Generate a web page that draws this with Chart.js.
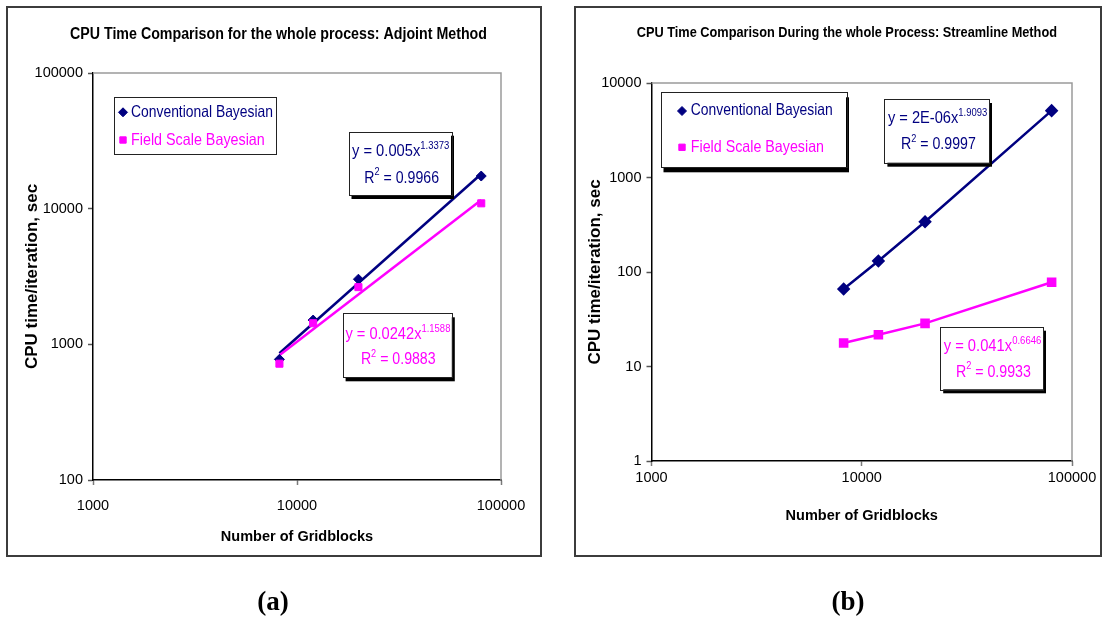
<!DOCTYPE html>
<html><head><meta charset="utf-8">
<script src="https://cdn.jsdelivr.net/npm/chart.js@4.4.1/dist/chart.umd.min.js"></script>
<style>
html,body{margin:0;padding:0;background:#fff;width:1107px;height:620px;overflow:hidden;position:relative}
.panel{position:absolute;box-sizing:border-box;border:2px solid #3c3c3c}
canvas{position:absolute;top:0}
.cap{position:absolute;font-family:'Liberation Serif','Times New Roman',serif;font-weight:bold;font-size:27px;top:586px;width:100px;text-align:center;color:#000}
</style></head><body>
<div class="panel" style="left:6px;top:6px;width:536px;height:551px"></div>
<div class="panel" style="left:574px;top:6px;width:528px;height:551px"></div>
<canvas id="cA" width="553" height="620" style="left:0"></canvas>
<canvas id="cB" width="554" height="620" style="left:553px"></canvas>
<div class="cap" style="left:223px">(a)</div>
<div class="cap" style="left:798px">(b)</div>
<script>
// ---------- data ----------
const gridblocks = [8200, 12000, 20000, 80000];
const adjointConventional = [775, 1510, 3020, 17400];
const adjointFieldScale = [720, 1430, 2640, 10950];
const trendGridblocks = [8200, 80000];
const adjointConventionalTrend = [860, 18000];
const adjointFieldScaleTrend = [830, 11600];
const streamlineConventional = [66, 131, 340, 5100];
const streamlineFieldScale = [17.7, 21.7, 28.6, 78];
const xTickValues = [1000, 10000, 100000];
const yTickValuesA = [100, 1000, 10000, 100000];
const yTickValuesB = [1, 10, 100, 1000, 10000];
const seriesNames = ['Conventional Bayesian', 'Field Scale Bayesian'];
const titleA = 'CPU Time Comparison for the whole process: Adjoint Method';
const titleB = 'CPU Time Comparison During the whole Process: Streamline Method';
const xTitle = 'Number of Gridblocks';
const yTitle = 'CPU time/iteration, sec';
const eqA = [['y = 0.005x', '1.3373', '0.9966'], ['y = 0.0242x', '1.1588', '0.9883']];
const eqB = [['y = 2E-06x', '1.9093', '0.9997'], ['y = 0.041x', '0.6646', '0.9933']];

const NAVY = '#000080', MAG = '#FF00FF';
const FONT = "'Liberation Sans', Arial, Helvetica, sans-serif";
const pts = (xs, ys) => xs.map((x, i) => ({x, y: ys[i]}));

function drawRich(ctx, parts, x0, x1, base, color) {
  ctx.save();
  let total = 0;
  const ws = parts.map(p => { ctx.font = `${p.w || 'normal'} ${p.s}px ${FONT}`; const w = ctx.measureText(p.t).width; total += w; return w; });
  const k = (x1 - x0) / total;
  ctx.translate(x0, base); ctx.scale(k, 1);
  ctx.fillStyle = color; ctx.textAlign = 'left'; ctx.textBaseline = 'alphabetic';
  let x = 0;
  parts.forEach((p, i) => { ctx.font = `${p.w || 'normal'} ${p.s}px ${FONT}`; ctx.fillText(p.t, x, p.dy || 0); x += ws[i]; });
  ctx.restore();
}
function box(ctx, r, shadow) {
  const [x0, y0, x1, y1] = r;
  if (shadow) { ctx.fillStyle = '#000'; ctx.fillRect(x0 + shadow[0], y0 + shadow[1], x1 - x0, y1 - y0); }
  ctx.fillStyle = '#fff'; ctx.fillRect(x0, y0, x1 - x0, y1 - y0);
  ctx.strokeStyle = '#222'; ctx.lineWidth = 1; ctx.strokeRect(Math.round(x0) + 0.5, Math.round(y0) + 0.5, Math.round(x1 - x0), Math.round(y1 - y0));
}

const overlay = {
  id: 'overlay',
  beforeDatasetsDraw(chart) {
    const {ctx, chartArea: a} = chart;
    ctx.save(); ctx.strokeStyle = '#9a9a9a'; ctx.lineWidth = 1.5;
    ctx.beginPath(); ctx.moveTo(a.left, a.top); ctx.lineTo(a.right, a.top); ctx.lineTo(a.right, a.bottom); ctx.stroke();
    ctx.restore();
  },
  afterDraw(chart, args, o) {
    const ctx = chart.ctx;
    ctx.save();
    drawRich(ctx, [{t: o.title.text, s: o.title.size, w: 'bold'}], o.title.x0, o.title.x1, o.title.base, '#000');
    box(ctx, o.legend.box, o.legend.shadow);
    o.legend.items.forEach((it, i) => {
      const ds = chart.data.datasets.find(d => d.label === seriesNames[i]);
      ctx.fillStyle = ds.backgroundColor; ctx.strokeStyle = ds.backgroundColor; ctx.lineWidth = 1;
      Chart.helpers.drawPoint(ctx, {pointStyle: ds.pointStyle, radius: ds.pointRadius - 0.5, rotation: 0, borderWidth: 1}, it.mx, it.my);
      drawRich(ctx, [{t: seriesNames[i], s: 16.5}], it.x0, it.x1, it.base, ds.backgroundColor);
    });
    o.eqs.forEach(e => {
      box(ctx, e.box, [3, 4]);
      drawRich(ctx, [{t: e.text[0], s: 17}, {t: e.text[1], s: 11, dy: -7.5}], e.l1[0], e.l1[2], e.l1[3], e.color);
      drawRich(ctx, [{t: 'R', s: 17}, {t: '2', s: 11, dy: -7.5}, {t: ' = ' + e.text[2], s: 17}], e.l2[0], e.l2[1], e.l2[2], e.color);
    });
    ctx.restore();
  }
};

function scales(yMin, yMax, yTicks, yTitlePad, xHeight, xLabelPad, xTitlePad, yWidth) {
  return {
    x: {
      type: 'logarithmic', min: 1000, max: 100000,
      afterBuildTicks: ax => { ax.ticks = xTickValues.map(v => ({value: v})); },
      afterFit: ax => { ax.height = xHeight; },
      ticks: {callback: v => String(v), font: {family: FONT, size: 14.5}, color: '#000', padding: xLabelPad, maxRotation: 0, autoSkip: false},
      grid: {drawOnChartArea: false, drawTicks: true, tickLength: 5, color: '#7a7a7a', tickWidth: 1.5},
      border: {color: '#000', width: 1.5},
      title: {display: true, text: xTitle, font: {family: FONT, size: 14.5, weight: 'bold'}, color: '#000', padding: {top: 0, bottom: xTitlePad}}
    },
    y: {
      type: 'logarithmic', min: yMin, max: yMax,
      afterBuildTicks: ax => { ax.ticks = yTicks.map(v => ({value: v})); },
      afterFit: ax => { ax.width = yWidth; },
      ticks: {callback: v => String(v), font: {family: FONT, size: 14.5}, color: '#000', padding: 5, autoSkip: false},
      grid: {drawOnChartArea: false, drawTicks: true, tickLength: 5, color: '#555', tickWidth: 1.5},
      border: {color: '#000', width: 1.5},
      title: {display: true, text: yTitle, font: {family: FONT, size: 17, weight: 'bold'}, color: '#000', padding: {top: yTitlePad, bottom: 0}}
    }
  };
}

// ---------- Chart (a): Adjoint ----------
new Chart(document.getElementById('cA'), {
  type: 'scatter',
  data: {datasets: [
    {label: seriesNames[1], data: pts(gridblocks, adjointFieldScale), pointStyle: 'rect', pointRadius: 5, backgroundColor: MAG, borderColor: MAG, borderWidth: 1, showLine: false},
    {label: seriesNames[0], data: pts(gridblocks, adjointConventional), pointStyle: 'rectRot', pointRadius: 5, backgroundColor: NAVY, borderColor: NAVY, borderWidth: 1, showLine: false},
    {label: 'trendField', data: pts(trendGridblocks, adjointFieldScaleTrend), showLine: true, pointRadius: 0, borderColor: MAG, backgroundColor: MAG, borderWidth: 2.5},
    {label: 'trendConv', data: pts(trendGridblocks, adjointConventionalTrend), showLine: true, pointRadius: 0, borderColor: NAVY, backgroundColor: NAVY, borderWidth: 2.5}
  ]},
  options: {
    responsive: false, animation: false, devicePixelRatio: 1,
    layout: {padding: {left: 10, top: 73, right: 52, bottom: 70}},
    scales: scales(100, 100000, yTickValuesA, 12.5, 70, 12, 4.6, 83),
    plugins: {legend: {display: false}, tooltip: {enabled: false},
      overlay: {
        title: {text: titleA, size: 16, x0: 70, x1: 487, base: 39},
        legend: {box: [113.6, 96.7, 275.5, 154], shadow: null, items: [
          {mx: 123, my: 112.3, x0: 131, x1: 273, base: 116.7},
          {mx: 123, my: 140, x0: 131, x1: 264.8, base: 145}]},
        eqs: [
          {color: NAVY, text: eqA[0], box: [348.5, 131.7, 451, 195], l1: [352, 420.8, 449.4, 156], l2: [364.3, 439, 182.7]},
          {color: MAG, text: eqA[1], box: [342.6, 313.3, 451.8, 377.3], l1: [345.4, 420.8, 450.4, 339.3], l2: [360.9, 435.6, 364.3]}
        ]
      }}
  },
  plugins: [overlay]
});

// ---------- Chart (b): Streamline ----------
new Chart(document.getElementById('cB'), {
  type: 'scatter',
  data: {datasets: [
    {label: seriesNames[0], data: pts(gridblocks, streamlineConventional), pointStyle: 'rectRot', pointRadius: 5, backgroundColor: NAVY, borderColor: NAVY, borderWidth: 2.5, showLine: true},
    {label: seriesNames[1], data: pts(gridblocks, streamlineFieldScale), pointStyle: 'rect', pointRadius: 5, backgroundColor: MAG, borderColor: MAG, borderWidth: 2.5, showLine: true}
  ]},
  options: {
    responsive: false, animation: false, devicePixelRatio: 1,
    layout: {padding: {left: 10, top: 83, right: 35, bottom: 90}},
    scales: scales(1, 10000, yTickValuesB, 21.8, 69, 3, 4.9, 88.5),
    plugins: {legend: {display: false}, tooltip: {enabled: false},
      overlay: {
        title: {text: titleB, size: 15, x0: 83.7, x1: 504, base: 36.7},
        legend: {box: [107.5, 92.3, 293, 167.3], shadow: [3, 5], items: [
          {mx: 129, my: 111, x0: 137.8, x1: 279.8, base: 115},
          {mx: 129, my: 147.3, x0: 137.8, x1: 271, base: 152.3}]},
        eqs: [
          {color: NAVY, text: eqB[0], box: [331.4, 99, 436, 162.7], l1: [334.9, 404.6, 434.3, 123.3], l2: [348, 422.8, 149]},
          {color: MAG, text: eqB[1], box: [387.2, 326.7, 490, 389.3], l1: [390.7, 458.7, 488.3, 351], l2: [402.9, 477.9, 376.7]}
        ]
      }}
  },
  plugins: [overlay]
});
</script>
</body></html>
